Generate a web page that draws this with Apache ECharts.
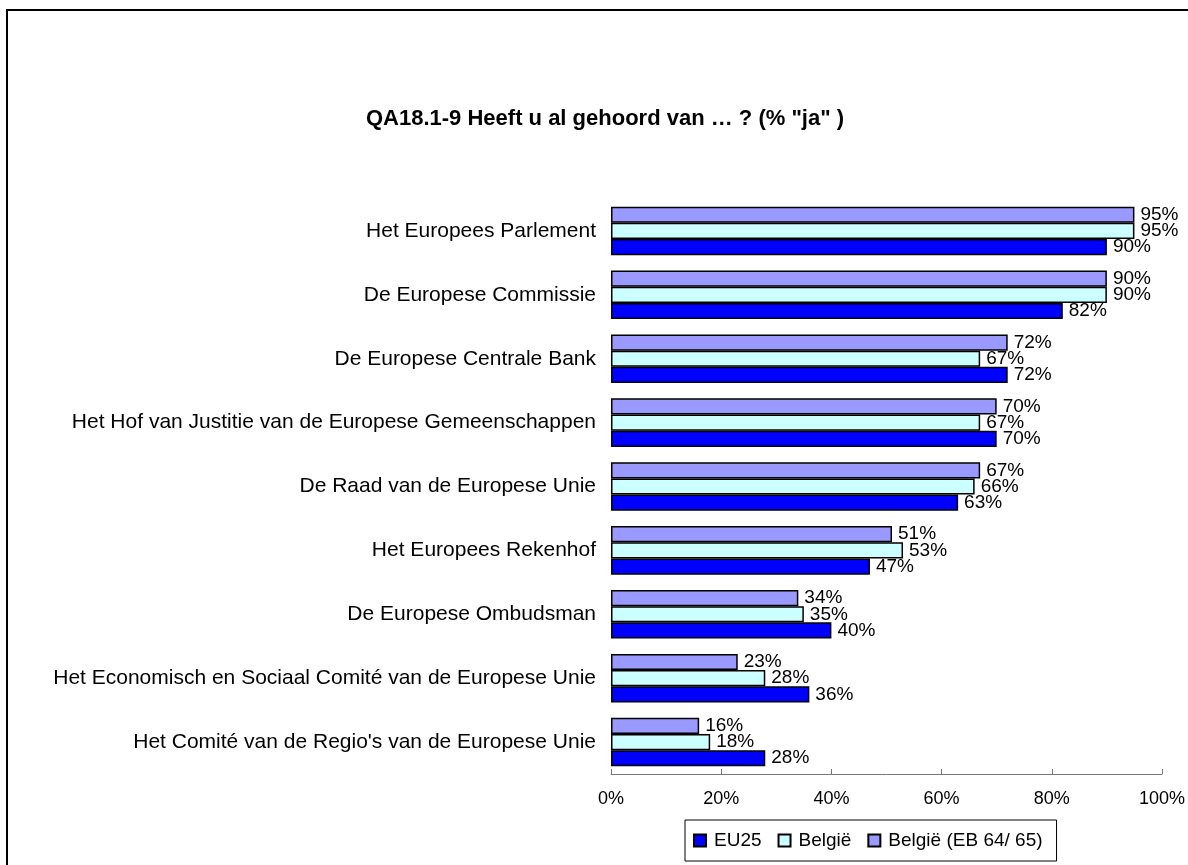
<!DOCTYPE html>
<html>
<head>
<meta charset="utf-8">
<script src="https://cdn.jsdelivr.net/npm/echarts@6/dist/echarts.min.js"></script>
<style>html,body{margin:0;padding:0;background:#fff;}#c{width:1188px;height:865px;}</style>
</head>
<body>
<div id="c"></div>
<script>
const categories = [
  "Het Europees Parlement",
  "De Europese Commissie",
  "De Europese Centrale Bank",
  "Het Hof van Justitie van de Europese Gemeenschappen",
  "De Raad van de Europese Unie",
  "Het Europees Rekenhof",
  "De Europese Ombudsman",
  "Het Economisch en Sociaal Comité van de Europese Unie",
  "Het Comité van de Regio's van de Europese Unie"
];
const seriesNames = ["EU25", "België", "België (EB 64/ 65)"];
const eu25 = [90, 82, 72, 70, 63, 47, 40, 36, 28];
const belgie = [95, 90, 67, 67, 66, 53, 35, 28, 18];
const belgieEB = [95, 90, 72, 70, 67, 51, 34, 23, 16];
const xTicks = [0, 20, 40, 60, 80, 100];
const titleText = 'QA18.1-9 Heeft u al gehoord van … ? (% "ja" )';

const font = "'Liberation Sans', Arial, sans-serif";
const colors = {"EU25": "#0000FF", "België": "#CCFFFF", "België (EB 64/ 65)": "#9999FF"};
const dataMap = {"EU25": eu25, "België": belgie, "België (EB 64/ 65)": belgieEB};

const chart = echarts.init(document.getElementById('c'), null, {renderer: 'canvas'});
const drawOrder = ["België (EB 64/ 65)", "België", "EU25"];
chart.setOption({
  animation: false,
  textStyle: {fontFamily: font},
  graphic: [{
    type: 'rect', shape: {x: 7, y: 10, width: 1300, height: 1000},
    style: {fill: 'none', stroke: '#000', lineWidth: 2}, silent: true, z: 100
  }],
  title: {
    text: titleText, left: 600, top: 103, textAlign: 'center',
    textStyle: {fontFamily: font, fontSize: 22, fontWeight: 'bold', color: '#000'}
  },
  legend: {
    data: seriesNames,
    left: 685, top: 820,
    orient: 'horizontal',
    borderColor: '#000', borderWidth: 1, padding: [11, 14, 11, 8],
    itemWidth: 12, itemHeight: 12, itemGap: 16,
    icon: 'rect',
    textStyle: {fontFamily: font, fontSize: 19, color: '#000', padding: [0, 0, 0, 3]}
  },
  grid: {left: 611, right: 25, top: 199, bottom: 91, containLabel: false},
  xAxis: {
    type: 'value', min: 0, max: 100, interval: 20,
    axisLine: {show: true, lineStyle: {color: '#777', width: 1}},
    axisTick: {show: true, inside: true, length: 5, lineStyle: {color: '#777'}},
    splitLine: {show: false},
    axisLabel: {formatter: '{value}%', fontFamily: font, fontSize: 18, color: '#000', margin: 16}
  },
  yAxis: {
    type: 'category', data: categories, inverse: true,
    axisLine: {show: false}, axisTick: {show: false}, splitLine: {show: false},
    axisLabel: {fontFamily: font, fontSize: 21, color: '#000', margin: 15}
  },
  series: drawOrder.map(name => ({
    name: name, type: 'bar',
    data: dataMap[name],
    barGap: '0%', barCategoryGap: '24%',
    itemStyle: {color: colors[name], borderColor: '#000', borderWidth: 1.5},
    label: {show: true, position: 'right', formatter: '{c}%', distance: 6,
      fontFamily: font, fontSize: 19, color: '#000'}
  }))
});
</script>
</body>
</html>
